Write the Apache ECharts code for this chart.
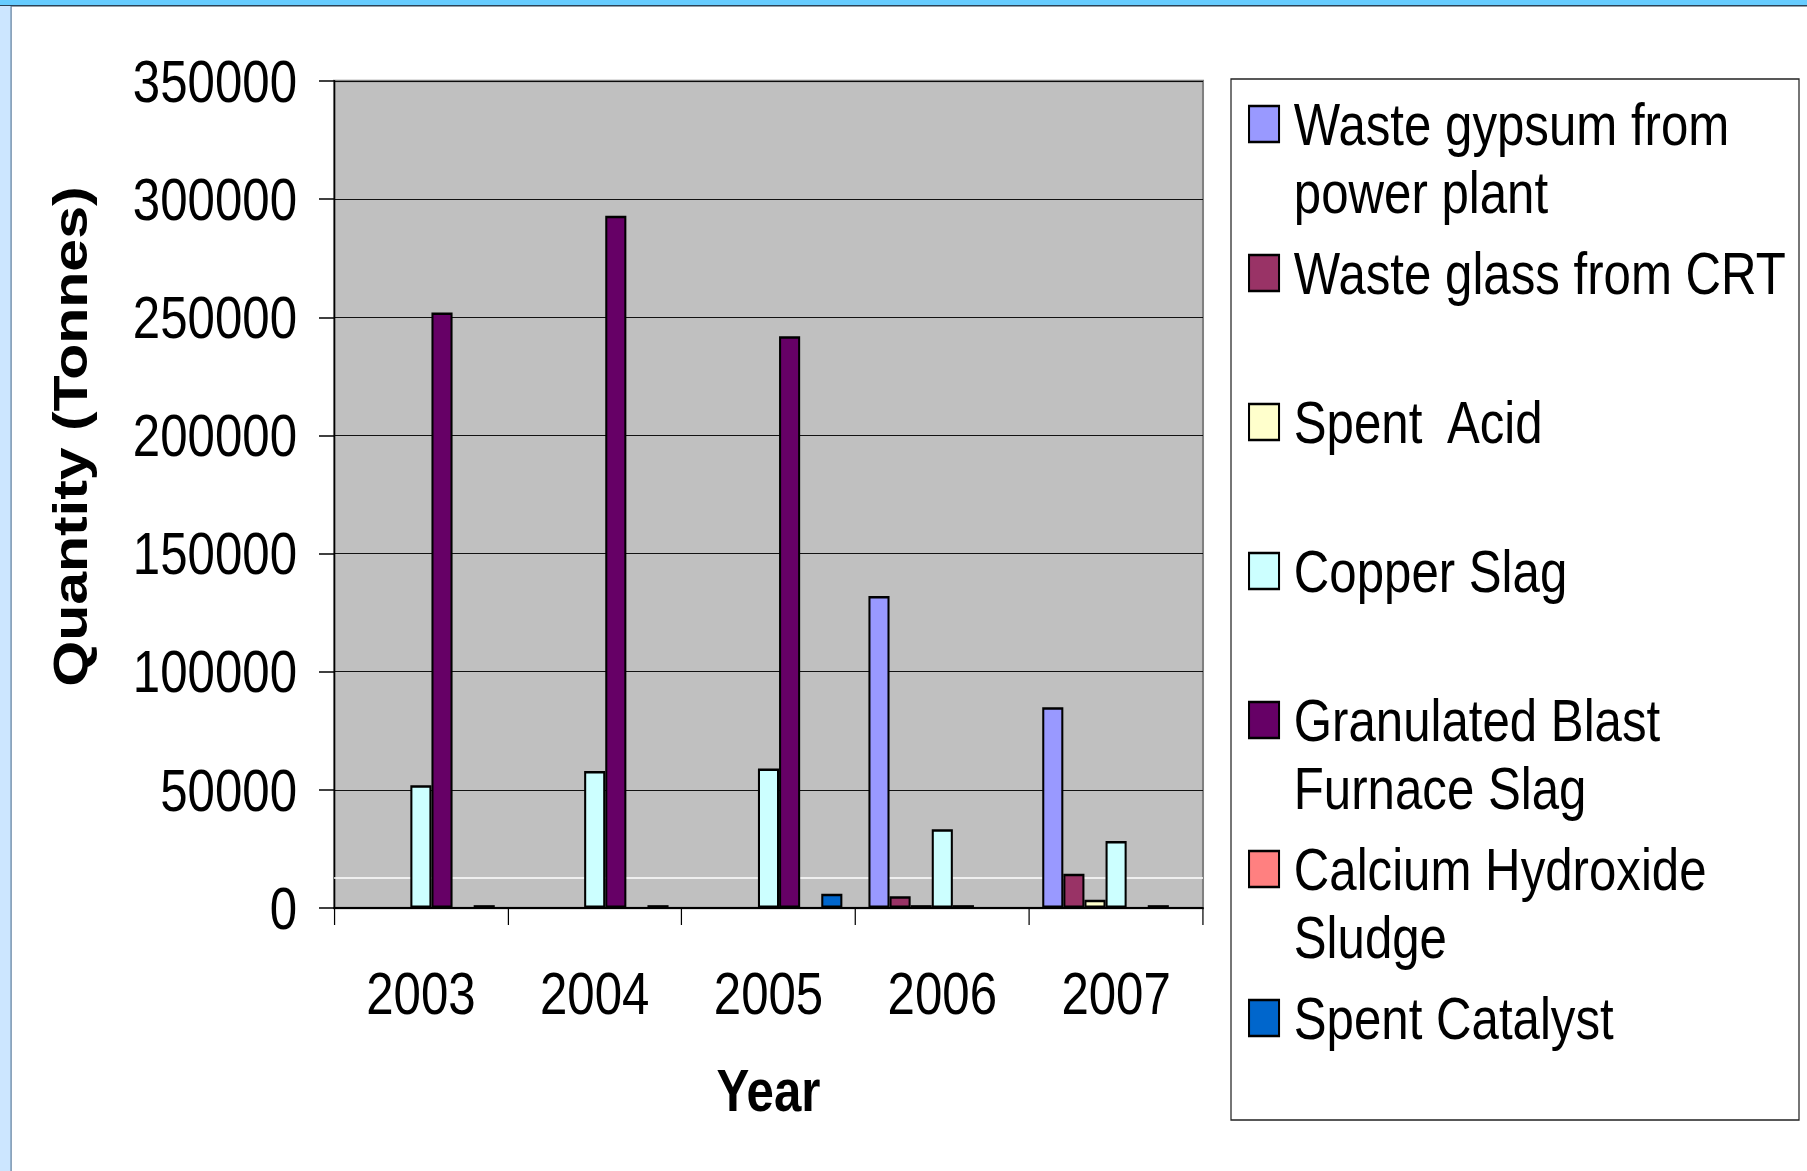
<!DOCTYPE html>
<html style="height: 100%">
<head>
  <meta charset="utf-8">
</head>
<body style="height: 100%; margin: 0; background: #fff; overflow: hidden">
<!-- the original uses a narrow face; the chart is laid out wider and squeezed back horizontally -->
<div id="chart" style="width: 2204px; height: 1171px; transform: scaleX(0.82); transform-origin: 0 0"></div>
<script src="https://cdn.jsdelivr.net/npm/echarts@6/dist/echarts.min.js"></script>
<script>
  var years = ['2003', '2004', '2005', '2006', '2007'];
  var seriesNames = [
    'Waste gypsum from power plant',
    'Waste glass from CRT',
    'Spent  Acid',
    'Copper Slag',
    'Granulated Blast Furnace Slag',
    'Calcium Hydroxide Sludge',
    'Spent Catalyst'
  ];
  // legend text as it is wrapped in the picture
  var legendLines = [
    ['Waste gypsum from', 'power plant'],
    ['Waste glass from CRT'],
    ['Spent  Acid'],
    ['Copper Slag'],
    ['Granulated Blast', 'Furnace Slag'],
    ['Calcium Hydroxide', 'Sludge'],
    ['Spent Catalyst']
  ];
  var colors = ['#9999FF', '#993366', '#FFFFCC', '#CCFFFF', '#660066', '#FF8080', '#0066CC'];

  var wasteGypsum   = [0, 0, 0, 132000, 85000];
  var wasteGlass    = [0, 0, 0, 5000, 14500];
  var spentAcid     = [0, 0, 0, 1200, 3500];
  var copperSlag    = [52000, 58000, 59000, 33300, 28400];
  var gbfSlag       = [252000, 293000, 242000, 1200, 0];
  var calciumSludge = [0, 0, 0, 0, 1200];
  var spentCatalyst = [1200, 1200, 6000, 0, 0];
  var values = [wasteGypsum, wasteGlass, spentAcid, copperSlag, gbfSlag, calciumSludge, spentCatalyst];

  var yTicks = [0, 50000, 100000, 150000, 200000, 250000, 300000, 350000];
  var whiteLineAt = 12800;

  var SX = 0.82;
  function sx(v) { return v / SX; }   // screen x -> chart x

  var font = "'Liberation Sans', Arial, sans-serif";

  var myChart = echarts.init(document.getElementById('chart'), null, {renderer: 'svg'});

  var series = [];
  // stray white line behind the bars
  series.push({
    type: 'line',
    name: '_line',
    data: [],
    z: 1,
    silent: true,
    markLine: {
      z: 1,
      silent: true,
      symbol: 'none',
      label: {show: false},
      lineStyle: {color: '#ffffff', width: 1.5, type: 'solid'},
      data: [{yAxis: whiteLineAt}]
    }
  });
  for (var i = 0; i < seriesNames.length; i++) {
    series.push({
      type: 'bar',
      name: seriesNames[i],
      // zero means no bar at all (no border line on the baseline)
      data: values[i].map(function (v) { return v === 0 ? '-' : v; }),
      barGap: '0%',
      barCategoryGap: '15%',
      itemStyle: {color: colors[i], borderColor: '#000', borderWidth: 2.5},
      emphasis: {disabled: true}
    });
  }

  var option = {
    animation: false,
    backgroundColor: '#ffffff',
    graphic: [
      {type: 'rect', shape: {x: 0, y: 0, width: sx(1807), height: 5}, style: {fill: '#66CCFF'}},
      {type: 'rect', shape: {x: 0, y: 5, width: sx(1807), height: 1.5}, style: {fill: '#2b4256'}},
      {type: 'rect', shape: {x: 0, y: 6, width: sx(11), height: 1165}, style: {fill: '#CCE6FF'}},
      {type: 'rect', shape: {x: sx(10.5), y: 6, width: sx(1.2), height: 1165}, style: {fill: '#5b7c9c'}},
      {type: 'rect', z: -1, shape: {x: sx(1231), y: 79, width: sx(568), height: 1041},
        style: {fill: '#fff', stroke: '#222', lineWidth: 1.5}}
    ],
    grid: {
      left: sx(334), top: 81, width: sx(869), height: 827,
      show: true, backgroundColor: '#C0C0C0', borderColor: '#808080', borderWidth: 2.5
    },
    legend: {
      data: seriesNames,
      orient: 'vertical',
      left: sx(1248),
      top: 22,
      padding: 0,
      itemGap: -55,
      itemWidth: sx(30),
      itemHeight: 36,
      icon: 'rect',
      selectedMode: false,
      itemStyle: {borderColor: '#000', borderWidth: 2.5},
      formatter: function (name) {
        var lines = legendLines[seriesNames.indexOf(name)];
        var out = ['\u00a0'].concat(lines);
        if (lines.length === 1) out.push('\u00a0');
        return out.join('\n');
      },
      textStyle: {fontFamily: font, fontSize: 60, lineHeight: 68, color: '#000', padding: [0, 0, 0, 13]}
    },
    xAxis: {
      type: 'category',
      data: years,
      name: 'Year',
      nameLocation: 'middle',
      nameGap: 152,
      nameTextStyle: {fontFamily: font, fontSize: 60, fontWeight: 'bold', color: '#000'},
      axisLine: {lineStyle: {color: '#000', width: 2}},
      axisTick: {show: true, length: 17, lineStyle: {color: '#000', width: 1.5}},
      axisLabel: {fontFamily: font, fontSize: 60, color: '#000', margin: 55},
      splitLine: {show: false}
    },
    yAxis: {
      type: 'value',
      min: 0,
      max: 350000,
      interval: 50000,
      name: 'Quantity (Tonnes)',
      nameLocation: 'middle',
      nameGap: 292,
      nameTextStyle: {fontFamily: font, fontSize: 59, fontWeight: 'bold', color: '#000',
        padding: [0, 0, 0, 116]},
      axisLine: {show: true, lineStyle: {color: '#000', width: 1.8}},
      axisTick: {show: true, length: sx(15), lineStyle: {color: '#000', width: 1.5}},
      axisLabel: {fontFamily: font, fontSize: 60, color: '#000', margin: sx(37),
        formatter: function (v) { return yTicks.indexOf(v) >= 0 ? String(v) : ''; }},
      splitLine: {show: true, lineStyle: {color: '#000', width: 1}}
    },
    series: series
  };

  myChart.setOption(option);
</script>
</body>
</html>
